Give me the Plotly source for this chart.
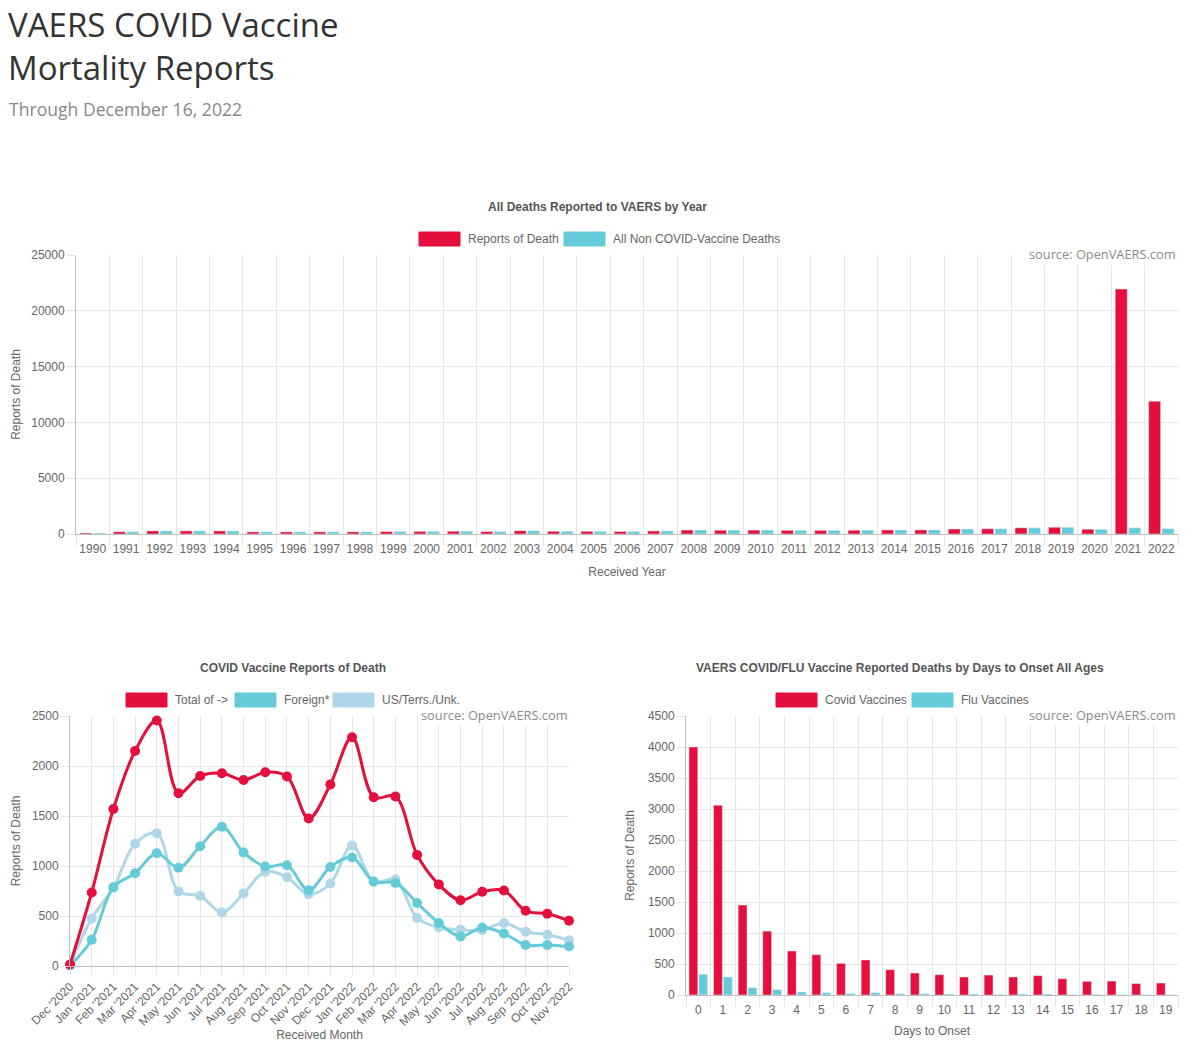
import plotly.graph_objects as go

# ---------------- data ----------------
years = [str(y) for y in range(1990, 2023)]
reports_of_death = [90, 205, 280, 278, 272, 192, 188, 192, 192, 220, 232, 250, 218, 292, 242, 238, 226, 276,
                    355, 340, 346, 332, 328, 338, 362, 368, 446, 470, 555, 605, 432, 21950, 11900]
non_covid_deaths = [86, 202, 278, 276, 271, 191, 187, 190, 191, 219, 232, 248, 218, 290, 241, 238, 224, 275,
                    353, 339, 346, 331, 327, 336, 360, 366, 445, 470, 553, 605, 418, 560, 480]

months = ["Dec '2020", "Jan '2021", "Feb '2021", "Mar '2021", "Apr '2021", "May '2021", "Jun '2021",
          "Jul '2021", "Aug '2021", "Sep '2021", "Oct '2021", "Nov '2021", "Dec '2021", "Jan '2022",
          "Feb '2022", "Mar '2022", "Apr '2022", "May '2022", "Jun '2022", "Jul '2022", "Aug '2022",
          "Sep '2022", "Oct '2022", "Nov '2022"]
total_deaths = [15, 735, 1570, 2150, 2455, 1728, 1900, 1928, 1860, 1938, 1895, 1475, 1815, 2288,
                1688, 1695, 1110, 815, 658, 742, 755, 552, 522, 452]
foreign_deaths = [5, 262, 788, 928, 1128, 982, 1198, 1392, 1135, 995, 1008, 758, 990, 1085,
                  845, 830, 630, 430, 295, 385, 325, 210, 210, 195]
us_deaths = [10, 475, 782, 1222, 1327, 746, 702, 536, 725, 943, 887, 717, 825, 1205,
             843, 865, 480, 385, 363, 357, 430, 342, 312, 257]

days = [str(d) for d in range(20)]
covid_vax = [4000, 3060, 1450, 1030, 710, 650, 510, 565, 408, 354, 328, 290, 322, 290, 312, 263, 220, 225, 183, 193]
flu_vax = [335, 290, 118, 86, 48, 38, 27, 38, 21, 21, 16, 16, 11, 16, 16, 5, 11, 5, 5, 3]

# ---------------- style ----------------
RED = "#e40f3c"
CYAN = "#66cbd9"
LIGHT = "#b0d7e7"
GRID = "#e6e6e6"
AXIS = "#bdbdbd"
TXT = "#666666"
FONT = "Liberation Sans"
W, H = 1200, 1045


def px(x):
    return x / W


def py(y):
    return 1 - y / H


fig = go.Figure()

# top chart
fig.add_trace(go.Bar(x=years, y=reports_of_death, name="Reports of Death", marker=dict(color=RED),
                     xaxis="x", yaxis="y", showlegend=False))
fig.add_trace(go.Bar(x=years, y=non_covid_deaths, name="All Non COVID-Vaccine Deaths", marker=dict(color=CYAN),
                     xaxis="x", yaxis="y", showlegend=False))

# bottom-left line chart
for vals, col, nm in [(us_deaths, LIGHT, "US/Terrs./Unk."), (foreign_deaths, CYAN, "Foreign*"),
                      (total_deaths, RED, "Total of ->")]:
    fig.add_trace(go.Scatter(x=months, y=vals, name=nm, mode="lines+markers",
                             line=dict(color=col, width=3, shape="spline", smoothing=1.0),
                             marker=dict(color=col, size=10), cliponaxis=False,
                             xaxis="x2", yaxis="y2", showlegend=False))

# bottom-right bars
fig.add_trace(go.Bar(x=days, y=covid_vax, name="Covid Vaccines", marker=dict(color=RED),
                     xaxis="x3", yaxis="y3", showlegend=False))
fig.add_trace(go.Bar(x=days, y=flu_vax, name="Flu Vaccines", marker=dict(color=CYAN),
                     xaxis="x3", yaxis="y3", showlegend=False))

tickfont = dict(family=FONT, size=12, color=TXT)
titlefont = dict(family=FONT, size=12, color=TXT)


def xax(domain, anchor, title, boundaries, angle=0, rng=None, standoff=8, ticklen=8, labelpad=0):
    d = dict(domain=domain, anchor=anchor, type="category", showgrid=True, gridcolor=GRID, gridwidth=1,
             ticks="outside", ticklen=ticklen, tickcolor=GRID, showline=True, linecolor=AXIS, linewidth=1,
             tickfont=tickfont, tickangle=angle, title=dict(text=title, font=titlefont, standoff=standoff),
             zeroline=False, fixedrange=True, automargin=False, ticklabelstandoff=labelpad)
    if boundaries:
        d["tickson"] = "boundaries"
    if rng is not None:
        d["range"] = rng
    return d


def yax(domain, anchor, rng, dtick, standoff=10):
    return dict(domain=domain, anchor=anchor, range=rng, dtick=dtick, tickformat="d", showgrid=True,
                gridcolor=GRID, ticks="outside", ticklen=8, tickcolor=GRID, showline=True, linecolor=AXIS,
                linewidth=1, tickfont=tickfont,
                title=dict(text="Reports of Death", font=titlefont, standoff=standoff),
                zeroline=False, fixedrange=True, automargin=False)


fig.update_layout(
    width=W, height=H, margin=dict(l=0, r=0, t=0, b=0, autoexpand=False), paper_bgcolor="white",
    plot_bgcolor="white", barmode="group", bargap=0.2, bargroupgap=0.1, showlegend=False,
    font=dict(family=FONT, color=TXT),
    xaxis=xax([px(76), px(1178)], "y", "Received Year", True, standoff=12, ticklen=11, labelpad=4),
    yaxis=yax([py(534), py(255)], "x", [0, 25000], 5000, standoff=8),
    xaxis2=xax([px(70), px(569)], "y2", "Received Month", False, angle=-45, rng=[0, 23], standoff=0),
    yaxis2=yax([py(966), py(716)], "x2", [0, 2500], 500, standoff=8),
    xaxis3=xax([px(686), px(1178)], "y3", "Days to Onset", True, standoff=10, ticklen=11, labelpad=4),
    yaxis3=yax([py(995), py(716)], "x3", [0, 4500], 500, standoff=10),
)

ann = []
shapes = []

# page heading
ann.append(dict(text="VAERS COVID Vaccine<br>Mortality Reports", x=px(6), y=py(0), xref="paper", yref="paper",
                xanchor="left", yanchor="top", align="left", showarrow=False,
                font=dict(family="Open Sans", size=33, color="#333333")))
ann.append(dict(text="Through December 16, 2022", x=px(7), y=py(109), xref="paper", yref="paper",
                xanchor="left", yanchor="middle", showarrow=False,
                font=dict(family="Open Sans", size=17.6, color="#888888")))

# chart titles
for t, cx in [("All Deaths Reported to VAERS by Year", 597), ("COVID Vaccine Reports of Death", 293),
              ("VAERS COVID/FLU Vaccine Reported Deaths by Days to Onset All Ages", 900)]:
    cy = 207 if cx == 597 else 668
    ann.append(dict(text="<b>" + t + "</b>", x=px(cx), y=py(cy), xref="paper", yref="paper",
                    xanchor="center", yanchor="middle", showarrow=False,
                    font=dict(family=FONT, size=12, color="#555555")))

# source notes
for sx, sy in [(1177, 254), (569, 715), (1177, 715)]:
    ann.append(dict(text="source: OpenVAERS.com", x=px(sx), y=py(sy), xref="paper", yref="paper",
                    xanchor="right", yanchor="middle", showarrow=False, bgcolor="white",
                    font=dict(family="Open Sans", size=12.8, color="#8a8a8a")))

# legends (chart.js-style boxes)
legend_items = [
    (419, 239, RED, "Reports of Death"), (564, 239, CYAN, "All Non COVID-Vaccine Deaths"),
    (126, 700, RED, "Total of ->"), (235, 700, CYAN, "Foreign*"), (333, 700, LIGHT, "US/Terrs./Unk."),
    (776, 700, RED, "Covid Vaccines"), (912, 700, CYAN, "Flu Vaccines"),
]
for lx, ly, col, name in legend_items:
    shapes.append(dict(type="rect", xref="paper", yref="paper", x0=px(lx), x1=px(lx + 41),
                       y0=py(ly + 7), y1=py(ly - 7), fillcolor=col, line=dict(color=col, width=1)))
    ann.append(dict(text=name, x=px(lx + 47), y=py(ly), xref="paper", yref="paper", xanchor="left",
                    yanchor="middle", showarrow=False, font=dict(family=FONT, size=12, color=TXT)))

fig.update_layout(annotations=ann, shapes=shapes)

fig.write_html("out.html", config={"displayModeBar": False},
               post_script="document.body.style.margin='0';document.body.style.overflow='hidden';")
